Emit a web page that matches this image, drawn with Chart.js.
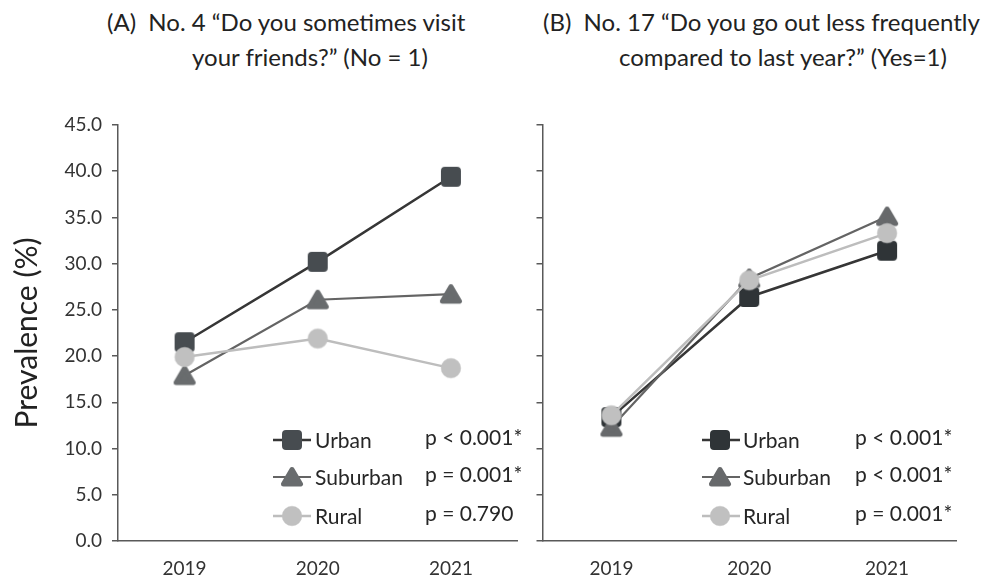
<!DOCTYPE html>
<html>
<head>
<meta charset="utf-8">
<script src="https://cdn.jsdelivr.net/npm/chart.js@4/dist/chart.umd.min.js"></script>
<style>
  html, body { margin: 0; padding: 0; background: #fff; }
  #wrap { position: relative; width: 985px; height: 579px; overflow: hidden; font-family: Lato, "Open Sans", sans-serif; color: #222; }
  .ttl { position: absolute; font-size: 24px; line-height: 28px; white-space: nowrap; }
  canvas { position: absolute; top: 0; }
</style>
</head>
<body>
<div id="wrap">
  <div class="ttl" style="left:107px; top:8px;">(A)&nbsp;&nbsp;No. 4 “Do you sometimes visit</div>
  <div class="ttl" style="left:192px; top:43px;">your friends?” (No = 1)</div>
  <div class="ttl" style="left:543px; top:8px;">(B)&nbsp;&nbsp;No. 17 “Do you go out less frequently</div>
  <div class="ttl" style="left:619px; top:43px;">compared to last year?” (Yes=1)</div>
  <canvas id="chartA" width="530" height="579" style="left:0;"></canvas>
  <canvas id="chartB" width="455" height="579" style="left:530px;"></canvas>
</div>
<script>
// Survey years on the x axis
const years = ['2019', '2020', '2021'];
const groups = ['Urban', 'Suburban', 'Rural'];

// (A) Not visiting friends, prevalence (%)
const friendsUrban = [21.5, 30.2, 39.4];
const friendsSuburban = [17.9, 26.1, 26.7];
const friendsRural = [19.9, 21.9, 18.7];
const friendsP = ['p < 0.001*', 'p = 0.001*', 'p = 0.790'];

// (B) Going out less often than last year, prevalence (%)
const outingUrban = [13.4, 26.4, 31.4];
const outingSuburban = [12.3, 28.4, 35.1];
const outingRural = [13.6, 28.2, 33.3];
const outingP = ['p < 0.001*', 'p < 0.001*', 'p = 0.001*'];

// y axis tick values
const yTicks = [0, 5, 10, 15, 20, 25, 30, 35, 40, 45];

const FONT = 'Lato, "Open Sans", sans-serif';
const AXIS = '#595959';

// Marker images: filled shapes with softened corners
function makeMarker(shape, color) {
  const c = document.createElement('canvas');
  c.width = 26; c.height = 26;
  const g = c.getContext('2d');
  g.fillStyle = color; g.strokeStyle = color; g.lineJoin = 'round';
  g.beginPath();
  if (shape === 'square') {
    g.rect(7, 7, 12, 12);
    g.lineWidth = 8;
  } else if (shape === 'triangle') {
    g.moveTo(13, 5.5); g.lineTo(21.5, 20); g.lineTo(4.5, 20); g.closePath();
    g.lineWidth = 5;
  } else {
    g.arc(13, 13, 9.8, 0, Math.PI * 2);
    g.lineWidth = 0.5;
  }
  g.fill(); g.stroke();
  return c;
}

function series(label, data, lineColor, lineWidth, marker, order) {
  return {
    label, data, order,
    borderColor: lineColor, borderWidth: lineWidth,
    backgroundColor: lineColor,
    pointStyle: marker, pointRadius: 10, pointHoverRadius: 10,
    tension: 0, fill: false
  };
}

// Side legend with p-values, drawn inside the plot area
const pLegend = {
  id: 'pLegend',
  afterDatasetsDraw(chart, args, o) {
    const ctx = chart.ctx;
    ctx.save();
    chart.data.datasets.forEach((ds, i) => {
      const y = o.ys[i];
      ctx.strokeStyle = ds.borderColor;
      ctx.lineWidth = ds.borderWidth;
      ctx.beginPath(); ctx.moveTo(o.x0, y); ctx.lineTo(o.x1, y); ctx.stroke();
      const img = ds.pointStyle;
      ctx.drawImage(img, o.mx - img.width / 2, y - img.height / 2);
      ctx.fillStyle = '#262626';
      ctx.font = '21px ' + FONT;
      ctx.textBaseline = 'middle';
      ctx.textAlign = 'left';
      ctx.fillText(ds.label, o.tx, y + 1);
      ctx.fillText(o.pvals[i], o.px, y - 2);
    });
    ctx.restore();
  }
};

function yScale(showLabels, width) {
  return {
    min: 0, max: 45,
    afterBuildTicks: s => { s.ticks = yTicks.map(v => ({ value: v })); },
    afterFit: s => { s.width = width; },
    border: { display: true, color: AXIS, width: 1.5 },
    grid: { drawOnChartArea: false, drawTicks: true, tickLength: 6, color: AXIS, lineWidth: 1.5 },
    ticks: {
      display: showLabels, padding: 10, color: '#333',
      font: { family: FONT, size: 19 },
      callback: v => Number(v).toFixed(1)
    },
    title: {
      display: showLabels, text: 'Prevalence (%)', color: '#222',
      font: { family: FONT, size: 30 }, padding: { top: 9, bottom: 0 }
    }
  };
}

function xScale() {
  return {
    type: 'category', offset: true,
    afterFit: s => { s.height = 38; },
    border: { display: true, color: AXIS, width: 1.5 },
    grid: { display: false, drawTicks: false },
    ticks: { color: '#333', padding: 16, font: { family: FONT, size: 19 }, maxRotation: 0 }
  };
}

function build(id, sets, pvals, yOpts, pad, legendPos) {
  const cols = [
    ['#363636', 2.5, 'square'],
    ['#646464', 2.2, 'triangle'],
    ['#bdbdbd', 2.5, 'circle']
  ];
  new Chart(document.getElementById(id), {
    type: 'line',
    data: {
      labels: years,
      datasets: sets.map((d, i) => series(groups[i], d, cols[i][0], cols[i][1],
        makeMarker(cols[i][2], d.markerColor), 2 - i))
    },
    options: {
      responsive: false, animation: false, devicePixelRatio: 1,
      layout: { padding: pad },
      plugins: {
        legend: { display: false }, tooltip: { enabled: false },
        pLegend: Object.assign({ pvals }, legendPos)
      },
      scales: { x: xScale(), y: yOpts }
    },
    plugins: [pLegend]
  });
}

// marker fill colours per group
function tag(arr, color) { const a = arr.slice(); a.markerColor = color; return a; }

build('chartA',
  [tag(friendsUrban, '#474c50'), tag(friendsSuburban, '#696c6e'), tag(friendsRural, '#c0c0c0')],
  friendsP, yScale(true, 118), { top: 125, right: 7, left: 0, bottom: 0 },
  { x0: 273, x1: 311, mx: 292, tx: 315, px: 425, ys: [440, 477, 516] });

build('chartB',
  [tag(outingUrban, '#2f3437'), tag(outingSuburban, '#67696b'), tag(outingRural, '#c0c0c0')],
  outingP, yScale(false, 8), { top: 125, right: 29, left: 0, bottom: 0 },
  { x0: 172, x1: 210, mx: 190, tx: 213, px: 325, ys: [440, 477, 516] });
</script>
</body>
</html>
